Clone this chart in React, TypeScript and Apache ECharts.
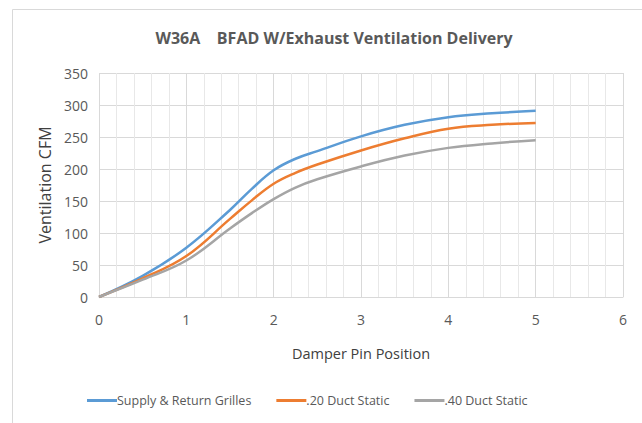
import React, { useEffect, useRef } from "react";
import * as echarts from "echarts";

const positions = [0, 0.5, 1, 1.5, 1.75, 2, 2.25, 2.5, 3, 3.5, 4, 4.5, 5];
const supplyReturn = [0, 33, 77, 136, 169, 198, 216, 228, 251, 269, 281, 287, 291];
const duct20 = [0, 29, 64, 122, 151, 177, 194, 207, 229, 248, 263, 269, 272];
const duct40 = [0, 27, 57, 107, 131, 153, 171, 184, 204, 221, 233, 240, 245];
const seriesNames = ["Supply & Return Grilles", ".20 Duct Static", ".40 Duct Static"];
const colors = ["#5b9bd5", "#ed7d31", "#a5a5a5"];

const FONT = "'Open Sans', 'Noto Sans', sans-serif";

export default function App() {
  const ref = useRef<HTMLDivElement>(null);
  useEffect(() => {
    document.body.style.margin = "0";
    const chart = echarts.init(ref.current!, null, { renderer: "svg" });
    const all = [supplyReturn, duct20, duct40];
    chart.setOption({
      animation: false,
      backgroundColor: "#ffffff",
      textStyle: { fontFamily: FONT },
      title: {
        text: "W36A    BFAD W/Exhaust Ventilation Delivery",
        left: 329,
        top: 25,
        textAlign: "center",
        textStyle: { fontFamily: FONT, fontSize: 16, fontWeight: "bold", color: "#595959" },
      },
      graphic: [
        {
          type: "rect",
          shape: { x: 12.5, y: 9.5, width: 700, height: 500 },
          style: { fill: "none", stroke: "#d9d9d9", lineWidth: 1 },
          silent: true,
        },
      ],
      legend: {
        bottom: 11,
        left: 82,
        itemWidth: 30,
        itemHeight: 3,
        itemGap: 25,
        icon: "rect",
        textStyle: { fontFamily: FONT, fontSize: 12.5, color: "#595959", padding: [0, 0, 0, -5] },
        data: seriesNames,
      },
      grid: { left: 99, right: 19, top: 73, bottom: 126, containLabel: false },
      xAxis: {
        type: "value",
        min: 0,
        max: 6,
        interval: 1,
        name: "Damper Pin Position",
        nameLocation: "middle",
        nameGap: 49,
        nameTextStyle: { fontFamily: FONT, fontSize: 14.5, color: "#404040" },
        axisLine: { show: true, lineStyle: { color: "#d9d9d9" } },
        axisTick: { show: false },
        axisLabel: { fontFamily: FONT, fontSize: 14, color: "#595959", margin: 15 },
        splitLine: { show: true, lineStyle: { color: "#d9d9d9" } },
        minorTick: { show: false, splitNumber: 5 },
        minorSplitLine: { show: true, lineStyle: { color: "#e8e8e8" } },
      },
      yAxis: {
        type: "value",
        min: 0,
        max: 350,
        interval: 50,
        name: "Ventilation CFM",
        nameLocation: "middle",
        nameGap: 44,
        nameTextStyle: { fontFamily: FONT, fontSize: 16, color: "#404040" },
        axisLine: { show: false },
        axisTick: { show: false },
        axisLabel: { fontFamily: FONT, fontSize: 14, color: "#595959", margin: 11 },
        splitLine: { show: true, lineStyle: { color: "#d9d9d9" } },
      },
      series: all.map((vals, i) => ({
        name: seriesNames[i],
        type: "line",
        smooth: 0.4,
        symbol: "none",
        color: colors[i],
        lineStyle: { width: 2.5, color: colors[i] },
        data: positions.map((p, j) => [p, vals[j]]),
      })),
    });
    return () => chart.dispose();
  }, []);
  return <div ref={ref} style={{ width: 642, height: 423 }} />;
}
